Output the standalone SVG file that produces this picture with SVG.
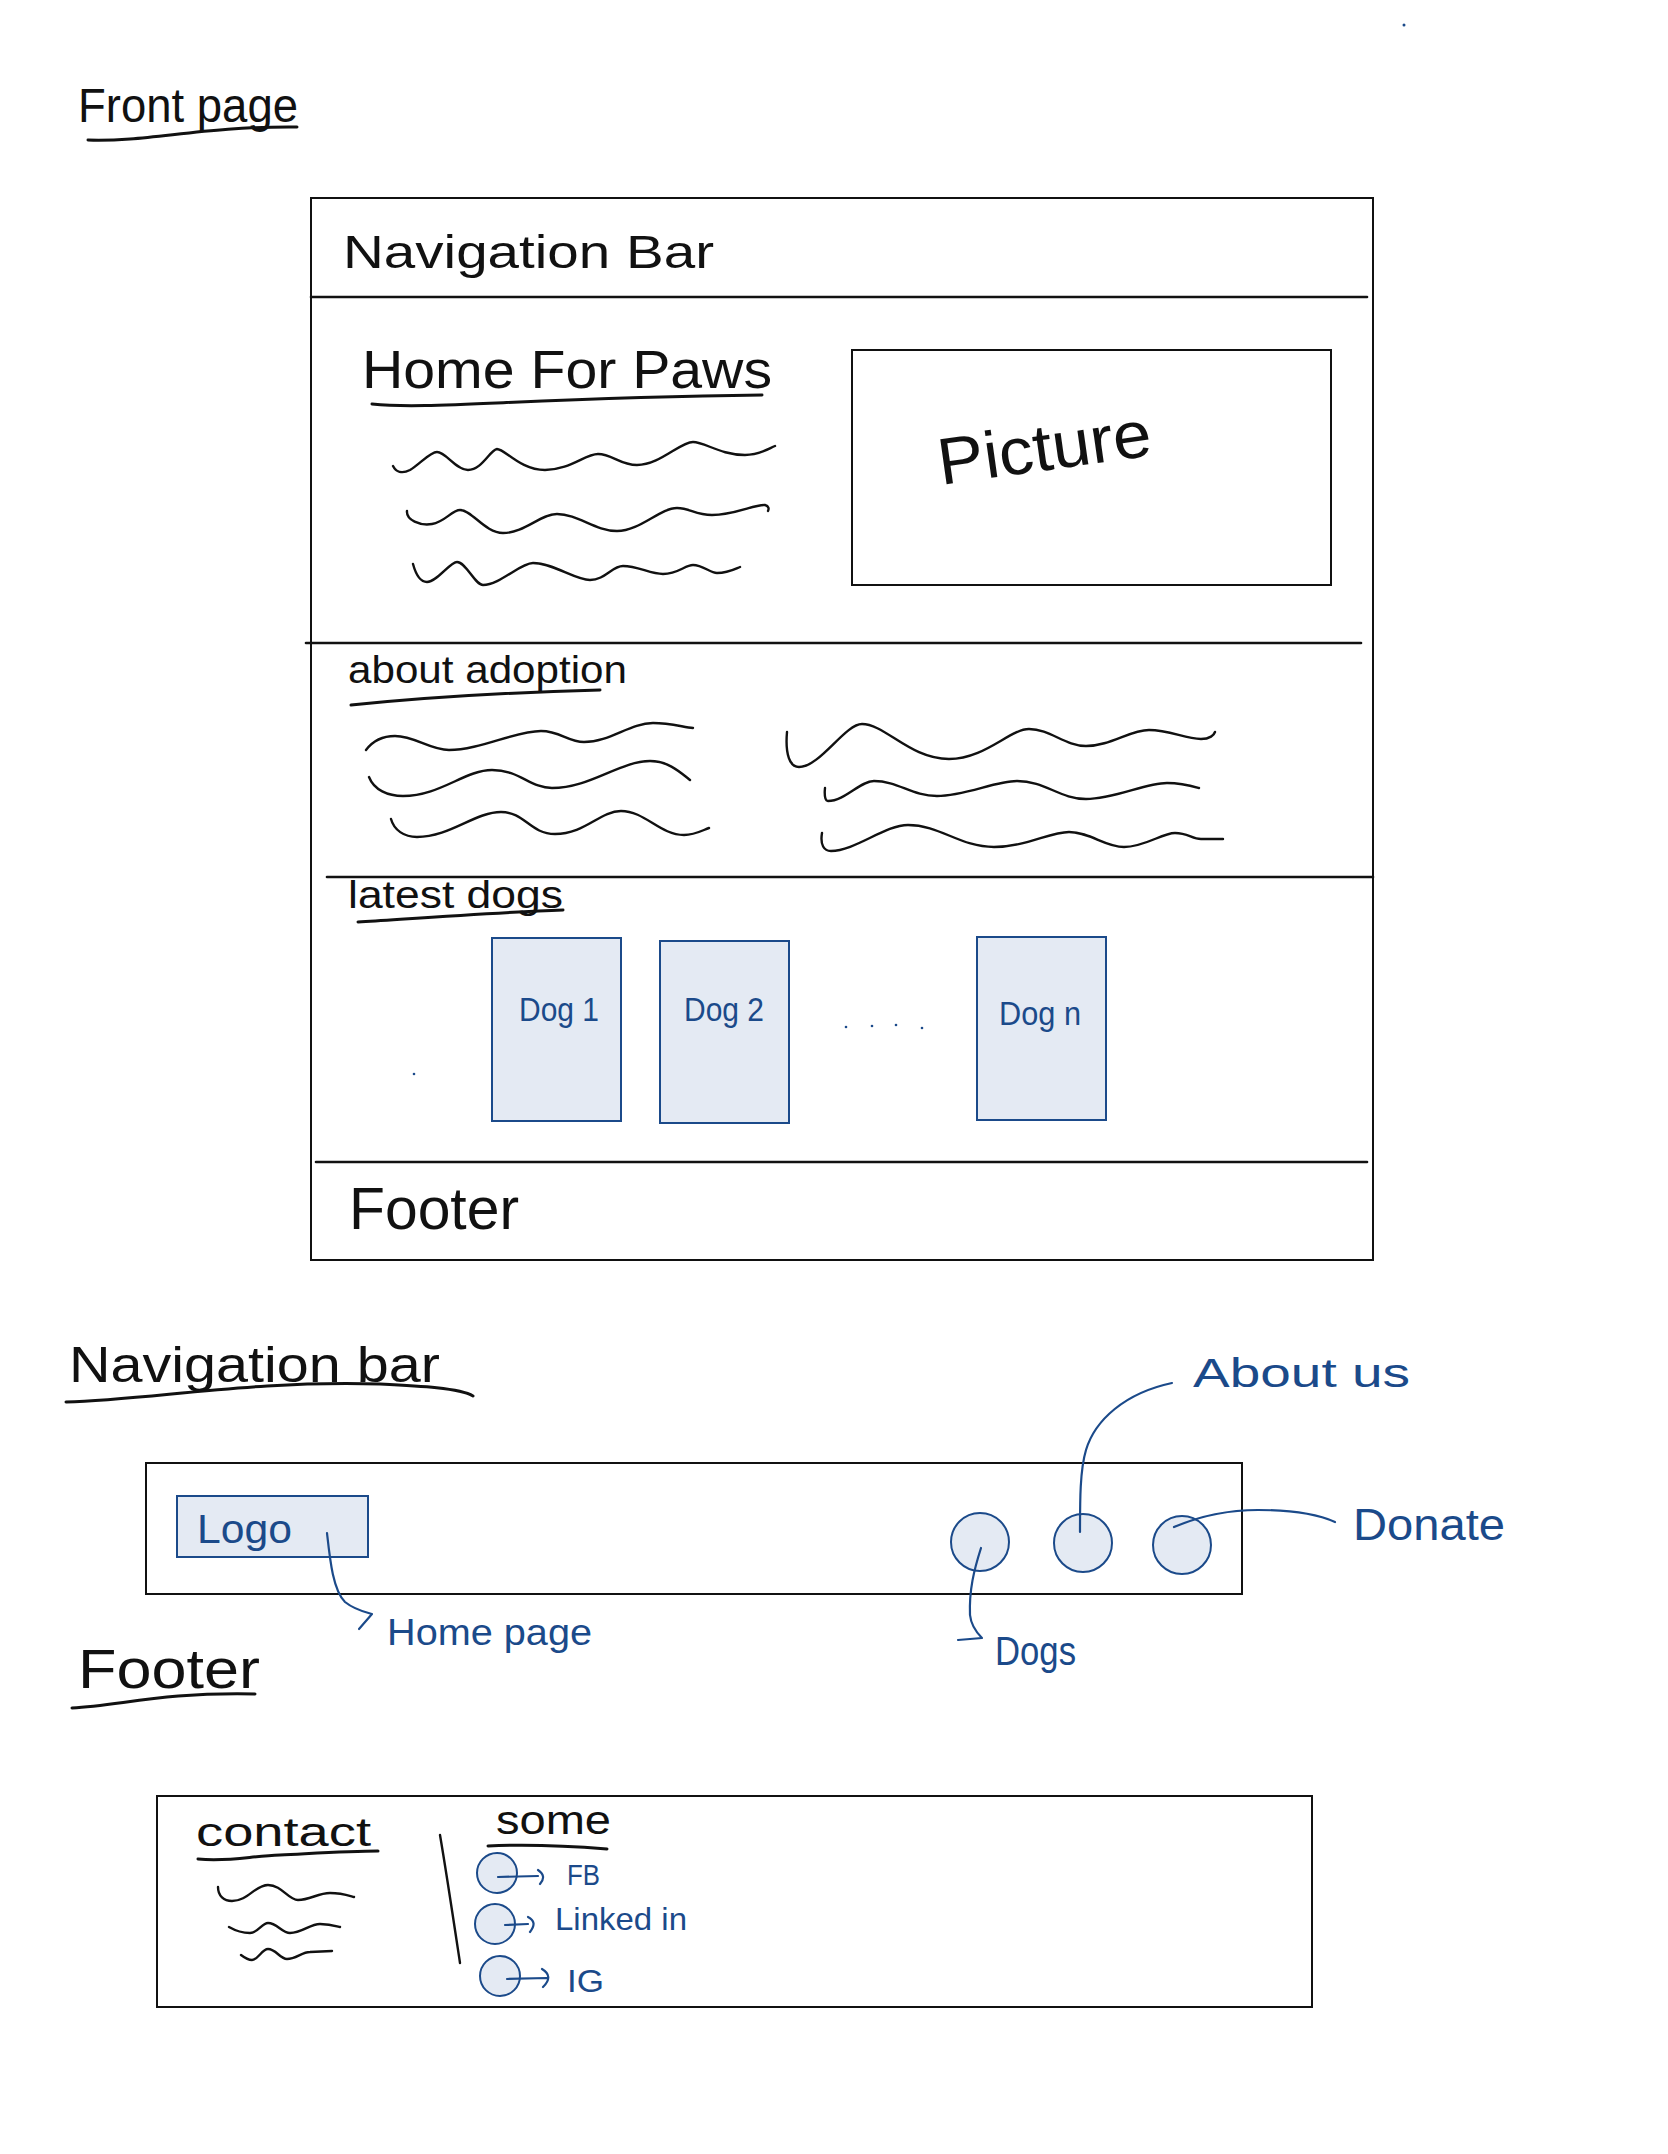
<svg xmlns="http://www.w3.org/2000/svg" width="1668" height="2154" viewBox="0 0 1668 2154">
<style>
.ink{fill:none;stroke:#111;stroke-width:2.4;stroke-linecap:round;stroke-linejoin:round}
.ul{fill:none;stroke:#111;stroke-width:3;stroke-linecap:round}
.blue{fill:none;stroke:#1b4a8a;stroke-width:2.2;stroke-linecap:round;stroke-linejoin:round}
.box{fill:#fff;stroke:#111;stroke-width:2}
.bfill{fill:#e4eaf3;stroke:#1b4a8a;stroke-width:2}
.t{font-family:"Liberation Sans Narrow","Liberation Sans",Arial,sans-serif;fill:#111}
.tb{font-family:"Liberation Sans Narrow","Liberation Sans",Arial,sans-serif;fill:#1b4a8a}
</style>
<rect width="1668" height="2154" fill="#fff"/>
<circle cx="1404" cy="25" r="1.5" fill="#1b4a8a"/>

<g id="title-front-page">
<text class="t" x="78" y="122" font-size="48" textLength="220" lengthAdjust="spacingAndGlyphs">Front page</text>
<path class="ul" d="M88,140 C150,142 200,126 297,127"/>
</g>

<g id="front-page-frame">
<rect class="box" x="311" y="198" width="1062" height="1062"/>
<line class="ink" x1="311" y1="297" x2="1367" y2="297" style="stroke-width:2.6"/>
<line class="ink" x1="306" y1="643" x2="1361" y2="643" style="stroke-width:2.6"/>
<line class="ink" x1="327" y1="877" x2="1373" y2="877" style="stroke-width:2.6"/>
<line class="ink" x1="316" y1="1162" x2="1367" y2="1162" style="stroke-width:2.6"/>
</g>

<g id="nav-bar-section">
<text class="t" x="343" y="268" font-size="46" textLength="371" lengthAdjust="spacingAndGlyphs">Navigation  Bar</text>
</g>

<g id="hero-section">
<text class="t" x="362" y="388" font-size="54" textLength="410" lengthAdjust="spacingAndGlyphs">Home For Paws</text>
<path class="ul" d="M372,404 C430,410 520,398 762,395"/>
<path class="ink" d="M393,466 C396,472 402,474 410,470 C420,464 430,452 437,452 C446,452 456,470 468,470 C482,470 490,450 497,449 C505,449 520,470 545,470 C570,470 585,454 598,454 C612,454 620,465 637,465 C660,465 680,442 693,442 C705,442 720,455 745,455 C760,455 768,449 775,446"/>
<path class="ink" d="M407,511 C406,520 420,526 432,524 C445,522 452,510 460,510 C472,510 485,533 503,533 C525,533 540,514 557,514 C578,514 595,531 617,531 C640,531 660,508 677,508 C690,508 695,515 712,515 C735,515 755,504 765,505 C769,506 769,509 768,511"/>
<path class="ink" d="M413,564 C416,575 420,582 427,582 C437,582 450,562 457,562 C466,562 475,585 483,585 C500,585 520,563 533,563 C553,563 575,580 590,580 C605,580 612,566 623,566 C638,566 650,574 663,574 C678,574 685,565 693,565 C703,565 710,573 717,573 C728,573 735,569 740,567"/>
</g>

<g id="picture">
<rect class="box" x="852" y="350" width="479" height="235"/>
<text class="t" x="941" y="485" font-size="66" textLength="215" lengthAdjust="spacingAndGlyphs" transform="rotate(-8 941 485)">Picture</text>
</g>

<g id="about-adoption">
<text class="t" x="348" y="683" font-size="38" textLength="279" lengthAdjust="spacingAndGlyphs">about adoption</text>
<path class="ul" d="M351,705 C420,698 520,692 600,690"/>
<path class="ink" d="M366,750 C372,742 382,736 395,736 C415,736 430,750 449,750 C480,750 515,731 541,731 C560,731 568,742 584,742 C610,742 630,723 653,723 C670,723 683,727 693,728"/>
<path class="ink" d="M369,777 C374,790 388,796 403,796 C440,796 465,770 492,770 C520,770 530,788 552,788 C590,788 620,761 650,761 C668,761 680,772 690,780"/>
<path class="ink" d="M391,819 C394,830 404,837 417,837 C450,837 475,812 501,812 C525,812 530,834 555,834 C585,834 600,811 621,811 C645,811 660,835 684,835 C695,835 703,830 709,828"/>
<path class="ink" d="M787,732 C785,755 790,767 799,767 C820,767 845,724 862,724 C885,724 910,759 949,759 C985,759 1010,729 1029,729 C1050,729 1065,746 1086,746 C1110,746 1130,730 1149,730 C1170,730 1185,739 1201,739 C1210,739 1214,735 1215,732"/>
<path class="ink" d="M825,788 C824,798 826,801 828,801 C845,801 860,781 874,781 C898,781 912,796 937,796 C965,796 995,781 1017,781 C1045,781 1060,799 1086,799 C1115,799 1145,783 1167,783 C1182,783 1192,786 1199,788"/>
<path class="ink" d="M822,833 C820,845 824,851 831,851 C855,851 885,825 908,825 C940,825 960,847 994,847 C1025,847 1050,832 1069,832 C1090,832 1105,847 1124,847 C1145,847 1162,833 1175,833 C1188,833 1192,839 1201,839 L1223,839"/>
</g>

<g id="latest-dogs">
<text class="t" x="348" y="908" font-size="38" textLength="215" lengthAdjust="spacingAndGlyphs">latest dogs</text>
<path class="ul" d="M358,922 C420,918 500,912 563,910"/>
<circle cx="414" cy="1074" r="1.3" fill="#1b4a8a"/>
<g fill="#1b4a8a"><circle cx="846" cy="1027" r="1.3"/><circle cx="872" cy="1026" r="1.3"/><circle cx="896" cy="1025" r="1.3"/><circle cx="922" cy="1028" r="1.3"/></g>
</g>
<g id="dog-1">
<rect class="bfill" x="492" y="938" width="129" height="183"/>
<text class="tb" x="519" y="1021" font-size="34" textLength="80" lengthAdjust="spacingAndGlyphs">Dog 1</text>
</g>
<g id="dog-2">
<rect class="bfill" x="660" y="941" width="129" height="182"/>
<text class="tb" x="684" y="1021" font-size="34" textLength="80" lengthAdjust="spacingAndGlyphs">Dog 2</text>
</g>
<g id="dog-n">
<rect class="bfill" x="977" y="937" width="129" height="183"/>
<text class="tb" x="999" y="1025" font-size="34" textLength="82" lengthAdjust="spacingAndGlyphs">Dog n</text>
</g>

<g id="footer-section">
<text class="t" x="349" y="1229" font-size="60" textLength="170" lengthAdjust="spacingAndGlyphs">Footer</text>
</g>

<g id="title-navigation-bar">
<text class="t" x="69" y="1382" font-size="50" textLength="371" lengthAdjust="spacingAndGlyphs">Navigation bar</text>
<path class="ul" d="M66,1402 C150,1400 250,1380 380,1384 C420,1386 460,1388 473,1396"/>
</g>

<g id="nav-bar">
<rect class="box" x="146" y="1463" width="1096" height="131"/>
</g>
<g id="logo">
<rect class="bfill" x="177" y="1496" width="191" height="61"/>
<text class="tb" x="197" y="1543" font-size="40" textLength="95" lengthAdjust="spacingAndGlyphs">Logo</text>
</g>
<g id="btn-dogs"><circle class="bfill" cx="980" cy="1542" r="29"/></g>
<g id="btn-about"><circle class="bfill" cx="1083" cy="1543" r="29"/></g>
<g id="btn-donate"><circle class="bfill" cx="1182" cy="1545" r="29"/></g>

<g id="label-home-page"><text class="tb" x="387" y="1645" font-size="36" textLength="205" lengthAdjust="spacingAndGlyphs">Home page</text></g>
<g id="label-dogs"><text class="tb" x="995" y="1665" font-size="40" textLength="81" lengthAdjust="spacingAndGlyphs">Dogs</text></g>
<g id="label-about-us"><text class="tb" x="1193" y="1387" font-size="40" textLength="217" lengthAdjust="spacingAndGlyphs">About  us</text></g>
<g id="label-donate"><text class="tb" x="1353" y="1540" font-size="44" textLength="152" lengthAdjust="spacingAndGlyphs">Donate</text></g>

<g id="title-footer">
<text class="t" x="78" y="1688" font-size="56" textLength="182" lengthAdjust="spacingAndGlyphs">Footer</text>
<path class="ul" d="M72,1708 C120,1706 160,1692 255,1694"/>
</g>

<g id="footer-box">
<rect class="box" x="157" y="1796" width="1155" height="211"/>
</g>
<g id="contact">
<text class="t" x="196" y="1846" font-size="40" textLength="175" lengthAdjust="spacingAndGlyphs">contact</text>
<path class="ul" d="M198,1859 C230,1862 250,1856 280,1855 C320,1853 350,1851 378,1851"/>
<path class="ink" d="M218,1887 C218,1896 224,1901 232,1901 C248,1901 255,1885 268,1885 C282,1885 288,1900 298,1900 C310,1900 318,1893 330,1893 C342,1893 350,1896 354,1897"/>
<path class="ink" d="M229,1927 C236,1931 243,1933 250,1933 C258,1933 262,1923 268,1923 C277,1923 282,1933 290,1933 C302,1933 310,1924 320,1924 C330,1924 336,1926 340,1927"/>
<path class="ink" d="M241,1955 C245,1958 248,1960 252,1960 C258,1960 262,1949 268,1949 C276,1949 280,1959 287,1959 C296,1959 302,1952 310,1952 L332,1951"/>
<path class="ink" d="M440,1835 C446,1870 452,1910 460,1963"/>
</g>
<g id="some">
<text class="t" x="496" y="1834" font-size="40" textLength="115" lengthAdjust="spacingAndGlyphs">some</text>
<path class="ul" d="M488,1846 C530,1844 570,1846 607,1849"/>
</g>
<g id="social-fb">
<circle class="bfill" cx="497" cy="1873" r="20"/>
<text class="tb" x="567" y="1885" font-size="30" textLength="33" lengthAdjust="spacingAndGlyphs">FB</text>
</g>
<g id="social-linkedin">
<circle class="bfill" cx="495" cy="1924" r="20"/>
<text class="tb" x="555" y="1930" font-size="32" textLength="132" lengthAdjust="spacingAndGlyphs">Linked in</text>
</g>
<g id="social-ig">
<circle class="bfill" cx="500" cy="1976" r="20"/>
<text class="tb" x="567" y="1992" font-size="32" textLength="37" lengthAdjust="spacingAndGlyphs">IG</text>
</g>

<g id="connectors">
<path class="blue" d="M327,1533 C330,1560 333,1590 345,1602 C355,1610 365,1612 372,1614 L359,1629"/>
<path class="blue" d="M981,1548 C974,1570 969,1590 970,1615 C971,1625 976,1632 982,1638 L958,1640"/>
<path class="blue" d="M1080,1532 C1080,1500 1080,1470 1086,1450 C1095,1420 1125,1393 1172,1383"/>
<path class="blue" d="M1174,1527 C1200,1516 1230,1510 1258,1510 C1290,1510 1315,1513 1335,1522"/>
<path class="blue" d="M498,1877 L538,1876 M538,1870 q9,6 2,14"/>
<path class="blue" d="M505,1925 L528,1924 M528,1917 q10,5 2,15"/>
<path class="blue" d="M507,1979 L547,1978 M542,1969 q12,7 1,18"/>
</g>
</svg>
